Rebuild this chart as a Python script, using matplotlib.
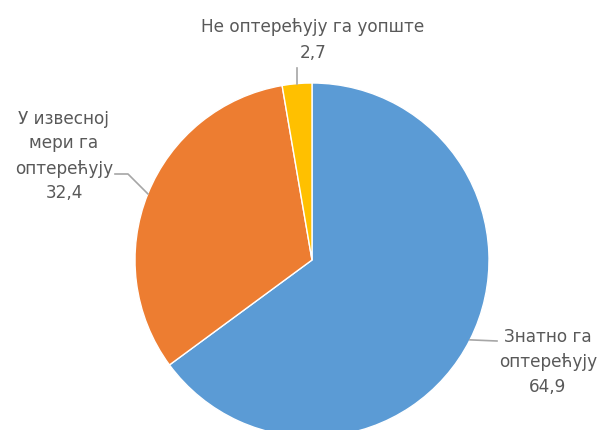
import numpy as np
import matplotlib.pyplot as plt

# подаци
labels = ["Знатно га\nоптерећују", "У извесној\nмери га\nоптерећују", "Не оптерећују га уопште"]
values = [64.9, 32.4, 2.7]
colors = ["#5B9BD5", "#ED7D31", "#FFC000"]

W, H = 603, 430
CX, CY, R = 312, H - 260, 177
TXT = "#595959"

fig = plt.figure(figsize=(W / 100, H / 100), dpi=100)
ax = fig.add_axes([0, 0, 1, 1])
ax.pie(values, colors=colors, startangle=90, counterclock=False,
       center=(CX, CY), radius=R, frame=True,
       wedgeprops=dict(edgecolor="white", linewidth=1))
ax.set_xlim(0, W); ax.set_ylim(0, H)
ax.set_aspect("auto")
ax.axis("off")

# средишњи углови исечака -> тачке на ободу
cum = np.cumsum([0] + values)
mids = 90 - (cum[:-1] + np.array(values) / 2) / sum(values) * 360
edge = [(CX + R * np.cos(np.radians(a)), CY + R * np.sin(np.radians(a))) for a in mids]

# положај натписа (пиксели) и прелом водилица
text_pos = [(548, 362), (64, 156), (313, 40)]
bends = [[(497, 341)], [(128, 174), (115, 174)], [(edge[2][0], H - 68)]]

for i, (lab, v) in enumerate(zip(labels, values)):
    tx, ty = text_pos[i]
    ax.text(tx, H - ty, f"{lab}\n{v:.1f}".replace(".", ","), ha="center", va="center",
            fontsize=12.2, color=TXT, family="DejaVu Sans", linespacing=1.5)
    pts = [edge[i]]
    for x, y in bends[i]:
        pts.append((x, y) if i == 2 else (x, H - y))
    xs, ys = zip(*pts)
    ax.plot(xs, ys, color="#A6A6A6", lw=1.2)

fig.savefig("out.png", dpi=100)
